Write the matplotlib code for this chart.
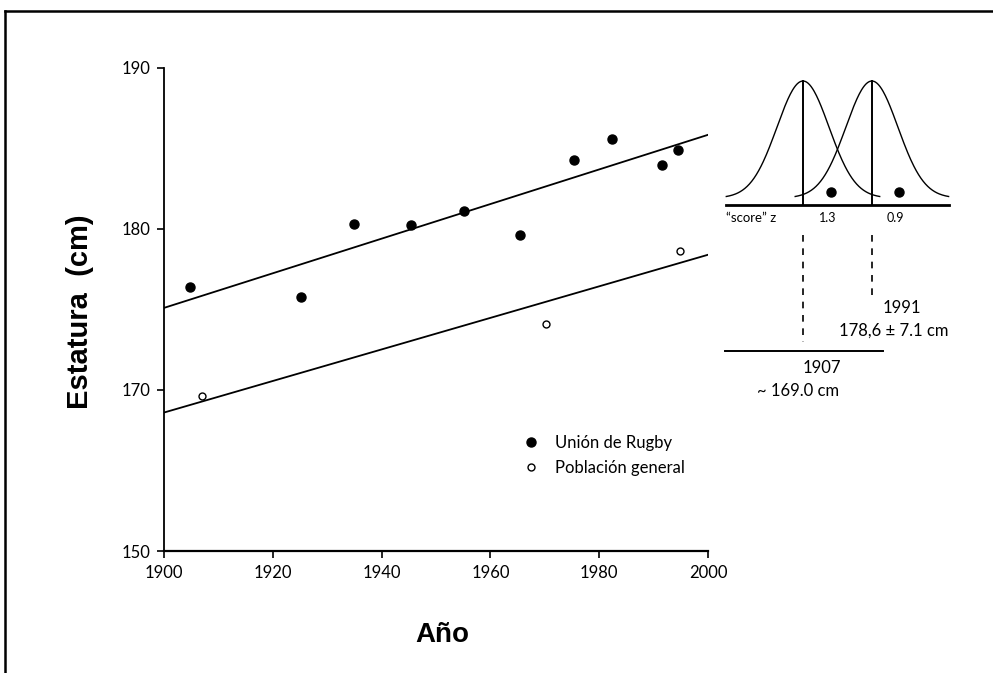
import numpy as np
import matplotlib
matplotlib.use("Agg")
import matplotlib.pyplot as plt
from matplotlib.lines import Line2D

# ---------------- data ----------------
rugby_years = [1904.7, 1925.1, 1935.0, 1945.4, 1955.1, 1965.5, 1975.3, 1982.4, 1991.6, 1994.5]
rugby_height = [176.4, 175.8, 180.3, 180.25, 181.1, 179.6, 184.3, 185.6, 184.0, 184.9]
pop_years = [1907.0, 1970.3, 1994.8]
pop_height = [169.6, 174.1, 178.65]

trend_years = [1900, 2000]
rugby_trend = [175.1, 185.85]
pop_trend = [168.6, 178.4]

y_ticks = [160, 170, 180, 190]
y_ticklabels = ["150", "170", "180", "190"]
x_ticks = [1900, 1920, 1940, 1960, 1980, 2000]
x_ticklabels = ["1900", "1920", "1940", "1960", "1980", "2000"]

legend_labels = ["Unión de Rugby", "Población general"]

# inset (schematic, in standard-deviation units)
curve_means = [0.0, 2.65]
dot_z = [1.08, 3.69]
z_labels = ["1.3", "0.9"]
year_labels = ["1907", "1991"]
stat_labels = ["~ 169.0 cm", "178,6 ± 7.1 cm"]

# ---------------- figure ----------------
W, H = 993, 673
fig = plt.figure(figsize=(W / 100, H / 100), dpi=100)
tick_font = "Lato"

ax = fig.add_axes([164 / W, 1 - 551 / H, 544 / W, (551 - 68) / H])
ax.set_xlim(1900, 2000)
ax.set_ylim(160, 190)
for s in ["top", "right"]:
    ax.spines[s].set_visible(False)
ax.spines["left"].set_linewidth(1.3)
ax.spines["bottom"].set_linewidth(1.6)
ax.set_xticks(x_ticks)
ax.set_xticklabels(x_ticklabels, fontfamily=tick_font, fontsize=12)
ax.set_yticks(y_ticks)
ax.set_yticklabels(y_ticklabels, fontfamily=tick_font, fontsize=12)
ax.tick_params(axis="both", length=5, width=1.2, direction="out", pad=5)

ax.plot(trend_years, rugby_trend, color="black", lw=1.3)
ax.plot(trend_years, pop_trend, color="black", lw=1.3)
ax.plot(rugby_years, rugby_height, "o", color="black", ms=6.5, ls="none", label=legend_labels[0])
ax.plot(pop_years, pop_height, "o", mfc="white", mec="black", mew=1.0, ms=5, ls="none", label=legend_labels[1])

leg = ax.legend(loc="upper left", bbox_to_anchor=(0.666, 0.240), frameon=False,
                prop={"family": tick_font, "size": 12}, handlelength=0.6,
                handletextpad=1.15, labelspacing=0.55, borderpad=0, borderaxespad=0)

fig.text(442 / W, 1 - 635 / H, "Año", ha="center", va="center",
         fontfamily="Liberation Sans", fontweight="bold", fontsize=20)
fig.text(80 / W, 1 - 312 / H, "Estatura  (cm)", ha="center", va="center", rotation=90,
         fontfamily="Liberation Sans", fontweight="bold", fontsize=21)

# ---------------- inset schematic ----------------
ix0, ix1, iy0, iy1 = 720, 965, 70, 400
ins = fig.add_axes([ix0 / W, 1 - iy1 / H, (ix1 - ix0) / W, (iy1 - iy0) / H])
sd_px, peak_px, base_px, zero_x = 26.0, 117.0, 198.0, 803.0
ins.set_xlim((ix0 - zero_x) / sd_px, (ix1 - zero_x) / sd_px)
ins.set_ylim((base_px - iy1) / peak_px, (base_px - iy0) / peak_px)
ins.axis("off")

for m in curve_means:
    z = np.linspace(m - 2.95, m + 2.95, 200)
    ins.plot(z, np.exp(-0.5 * (z - m) ** 2), color="black", lw=1.0)
    ins.plot([m, m], [-0.06, 1.0], color="black", lw=1.4)
base_y = -0.06
ins.plot([curve_means[0] - 2.95, curve_means[1] + 2.95], [base_y, base_y], color="black", lw=2.0)
ins.plot(dot_z, [0.05, 0.05], "o", color="black", ms=6.5, ls="none")
for dz, lab in zip(dot_z, z_labels):
    ins.text(dz - 0.12, -0.17, lab, ha="center", va="center", fontfamily=tick_font, fontsize=9)
ins.text(curve_means[0] - 2.95, -0.17, "\u201cscore\u201d z", ha="left", va="center",
         fontfamily=tick_font, fontsize=9.5)

# dashed projections
ins.plot([curve_means[0]] * 2, [-0.32, -1.23], color="black", lw=1.2, ls=(0, (4, 4)))
ins.plot([curve_means[1]] * 2, [-0.32, -0.87], color="black", lw=1.2, ls=(0, (4, 4)))
ins.plot([curve_means[0] - 3.0, curve_means[0] + 3.08], [-1.31, -1.31], color="black", lw=1.4)

ins.text(3.81, -0.94, year_labels[1], ha="center", va="center", fontfamily=tick_font, fontsize=12)
ins.text(3.5, -1.13, stat_labels[1], ha="center", va="center", fontfamily=tick_font, fontsize=12)
ins.text(0.73, -1.45, year_labels[0], ha="center", va="center", fontfamily=tick_font, fontsize=12)
ins.text(-0.2, -1.65, stat_labels[0], ha="center", va="center", fontfamily=tick_font, fontsize=12)

# ---------------- frame of the page ----------------
fig.add_artist(Line2D([5 / W, 1.0], [1 - 11 / H, 1 - 11 / H], color="black", lw=1.8))
fig.add_artist(Line2D([5 / W, 5 / W], [1 - 11 / H, 0.0], color="black", lw=1.8))

fig.savefig("out.png", dpi=100)
